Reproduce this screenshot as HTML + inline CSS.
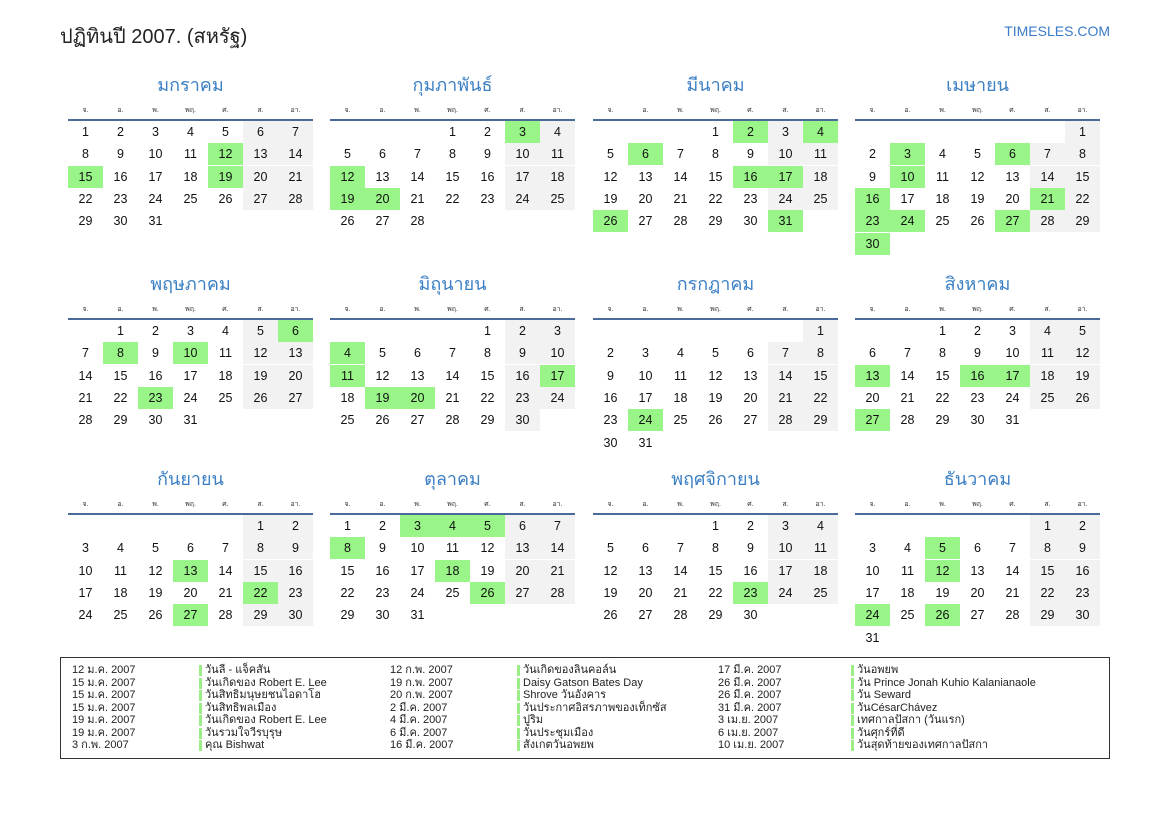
<!DOCTYPE html>
<html><head><meta charset="utf-8">
<style>
body{margin:0;width:1169px;height:827px;background:#fff;font-family:"Liberation Sans","DejaVu Sans","Noto Sans CJK SC",sans-serif;position:relative;overflow:hidden}
.a{position:absolute;white-space:nowrap}
.title{left:60px;top:20px;font-size:20px;color:#222}
.site{right:59px;top:23px;font-size:14px;color:#3a7bc8}
.mt{font-size:18px;color:#3b7fc4;text-align:center;width:245px}
.wd{font-size:7px;color:#333;text-align:center;width:35px}
.line{height:2px;background:#4a6a9a;width:245px}
.cell{width:35px;height:22px;line-height:22px;text-align:center;font-size:12.5px;color:#111}
.legend{left:60px;top:657px;width:1048px;height:100px;border:1px solid #333}
.lg{font-size:11px;color:#222;line-height:12.5px}
.bar{width:3px;height:11px;background:#99ee88}
</style></head><body>
<div class="a title">ปฏิทินปี 2007. (สหรัฐ)</div>
<div class="a site">TIMESLES.COM</div>
<div id="cal"></div>
<div class="a legend"></div>
<div id="leg"></div>
<script>
const monthNames=["มกราคม","กุมภาพันธ์","มีนาคม","เมษายน","พฤษภาคม","มิถุนายน","กรกฎาคม","สิงหาคม","กันยายน","ตุลาคม","พฤศจิกายน","ธันวาคม"];
const weekdays=["จ.","อ.","พ.","พฤ.","ศ.","ส.","อา."];
const holidays=[[12,15,19],[3,12,19,20],[2,4,6,16,17,26,31],[3,6,10,16,21,23,24,27,30],[6,8,10,23],[4,11,17,19,20],[24],[13,16,17,27],[13,22,27],[3,4,5,8,18,26],[23],[5,12,24,26]];
const year=2007;
const colX=[68,330,593,855], lineY=[120,319,514], rowH=22.3;
const cal=document.getElementById('cal');
function add(cls,x,y,txt,parent){const d=document.createElement('div');d.className='a '+cls;d.style.left=x+'px';d.style.top=y+'px';if(txt!==undefined)d.textContent=txt;(parent||cal).appendChild(d);return d;}
for(let m=0;m<12;m++){
  const X=colX[m%4],Y=lineY[Math.floor(m/4)];
  const t=add('mt',X,Y-50,monthNames[m]);
  
  
  for(let w=0;w<7;w++){const d=add('wd',X+w*35,Y-15,weekdays[w]);
    
    }
  const l=add('line',X,Y-1);
  
  
  const first=(new Date(year,m,1).getDay()+6)%7, nd=new Date(year,m+1,0).getDate();
  for(let d=1;d<=nd;d++){
    const i=first+d-1,c=i%7,r=Math.floor(i/7);
    const e=add('cell',X+c*35,Y+1+r*rowH,String(d));
    let bg='';
    if(c>=5)bg='#f2f2f2';
    if(holidays[m].includes(d))bg='#99f588';
    if(bg)e.style.background=bg;
    
    
  }
}
const legDates=[["12 ม.ค. 2007","15 ม.ค. 2007","15 ม.ค. 2007","15 ม.ค. 2007","19 ม.ค. 2007","19 ม.ค. 2007","3 ก.พ. 2007"],["12 ก.พ. 2007","19 ก.พ. 2007","20 ก.พ. 2007","2 มี.ค. 2007","4 มี.ค. 2007","6 มี.ค. 2007","16 มี.ค. 2007"],["17 มี.ค. 2007","26 มี.ค. 2007","26 มี.ค. 2007","31 มี.ค. 2007","3 เม.ย. 2007","6 เม.ย. 2007","10 เม.ย. 2007"]];
const legNames=[["วันลี - แจ็คสัน","วันเกิดของ Robert E. Lee","วันสิทธิมนุษยชนไอดาโฮ","วันสิทธิพลเมือง","วันเกิดของ Robert E. Lee","วันรวมใจวีรบุรุษ","คุณ Bishwat"],["วันเกิดของลินคอล์น","Daisy Gatson Bates Day","Shrove วันอังคาร","วันประกาศอิสรภาพของเท็กซัส","ปูริม","วันประชุมเมือง","สังเกตวันอพยพ"],["วันอพยพ","วัน Prince Jonah Kuhio Kalanianaole","วัน Seward","วันCésarChávez","เทศกาลปัสกา (วันแรก)","วันศุกร์ที่ดี","วันสุดท้ายของเทศกาลปัสกา"]];
const leg=document.getElementById('leg');
const dX=[72,390,718],nX=[205,523,857];
for(let g=0;g<3;g++)for(let k=0;k<7;k++){
  const y=664+k*12.5;
  const a=add('lg',dX[g],y,legDates[g][k],leg);
  
  
  const b=add('bar',nX[g]-6,y+1,undefined,leg);
  
  
  const n=add('lg',nX[g],y,legNames[g][k],leg);
  
  
}
</script>
</body></html>
